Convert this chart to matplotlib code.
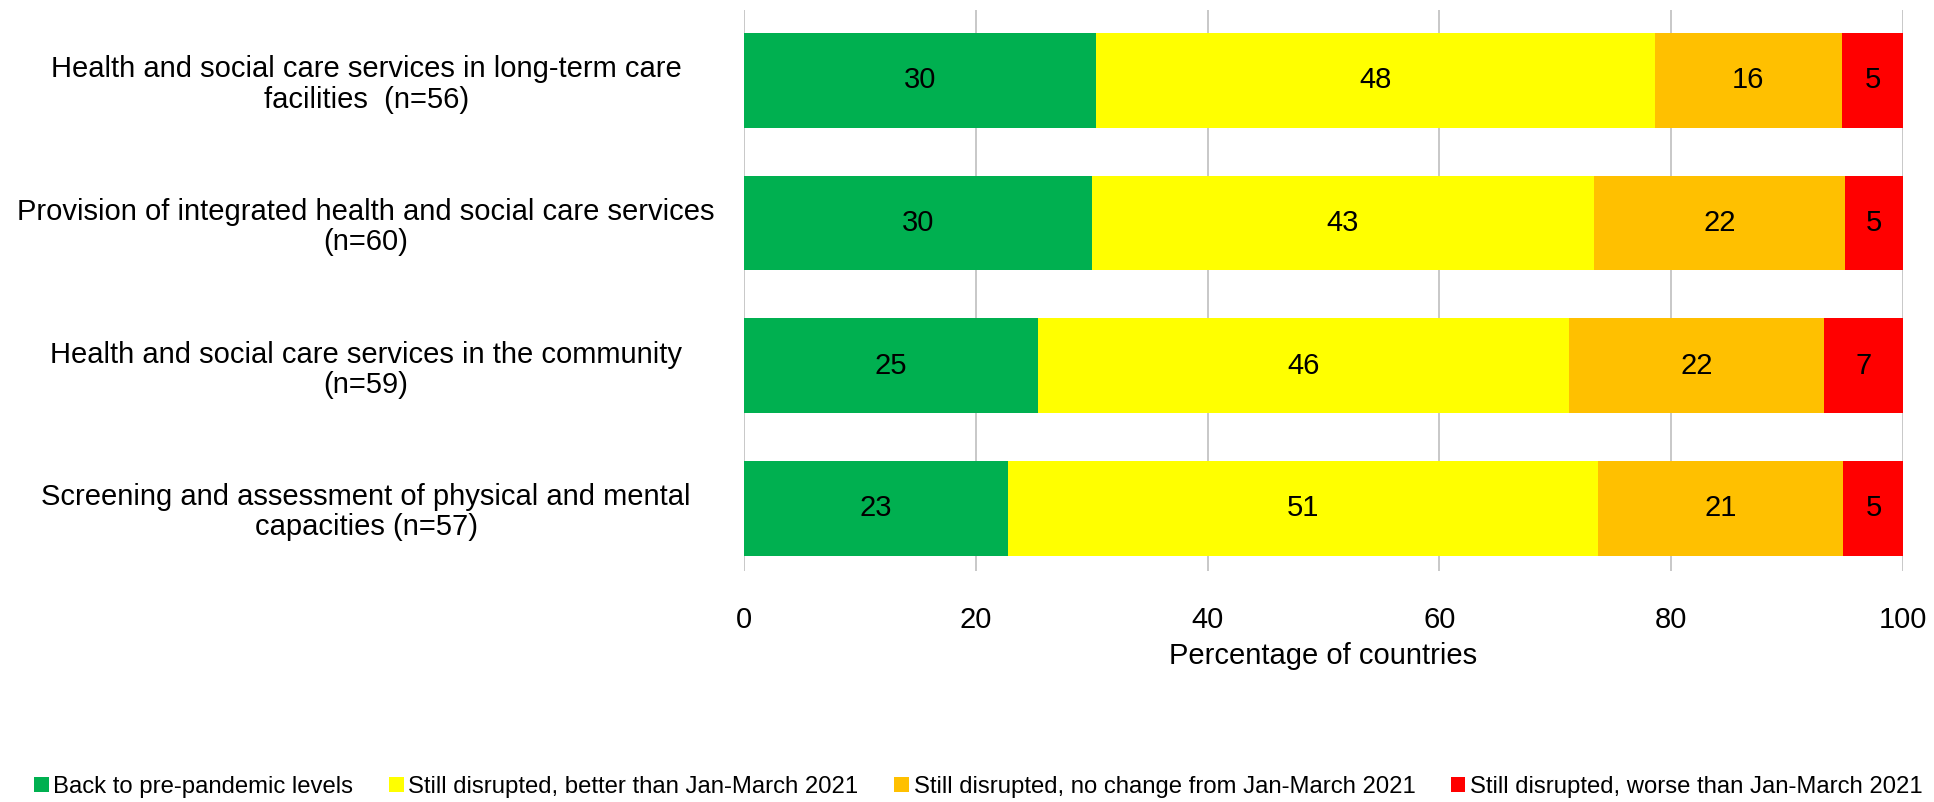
import matplotlib
matplotlib.use("Agg")
import matplotlib.pyplot as plt
from matplotlib.patches import Patch

plt.rcParams['font.family'] = ['Liberation Sans', 'DejaVu Sans']

categories = [
    "Health and social care services in long-term care\nfacilities  (n=56)",
    "Provision of integrated health and social care services\n(n=60)",
    "Health and social care services in the community\n(n=59)",
    "Screening and assessment of physical and mental\ncapacities (n=57)",
]

series_names = [
    "Back to pre-pandemic levels",
    "Still disrupted, better than Jan-March 2021",
    "Still disrupted, no change from Jan-March 2021",
    "Still disrupted, worse than Jan-March 2021",
]

back_to_normal = [30.4, 30.0, 25.4, 22.8]
better = [48.2, 43.3, 45.8, 50.9]
no_change = [16.1, 21.7, 22.0, 21.1]
worse = [5.4, 5.0, 6.8, 5.3]

colors = ["#00B050", "#FFFF00", "#FFC000", "#FF0000"]

FS = 21

fig = plt.figure(figsize=(19.34, 8.02), dpi=100)
ax = fig.add_axes([0.3847, 0.288, 0.5993, 0.6995])

ypos = list(range(len(categories)))[::-1]
left = [0.0] * len(categories)
for name, vals, col in zip(series_names, [back_to_normal, better, no_change, worse], colors):
    bars = ax.barh(ypos, vals, left=left, height=0.665, color=col, label=name,
                   edgecolor="none", zorder=2)
    for b, v in zip(bars, vals):
        ax.text(b.get_x() + b.get_width() / 2, b.get_y() + b.get_height() / 2,
                f"{v:.0f}", ha="center", va="center", fontsize=FS, color="black", zorder=3)
    left = [l + v for l, v in zip(left, vals)]

ax.set_xlim(0, 100)
ax.set_ylim(-0.44, 3.494)
ax.set_xticks([0, 20, 40, 60, 80, 100])
ax.set_yticks(ypos)
ax.set_yticklabels(categories, fontsize=FS, ha="center", linespacing=1.1)
for lbl in ax.get_yticklabels():
    lbl.set_x(-0.326)
ax.tick_params(axis="x", labelsize=FS, length=0, pad=25)
ax.tick_params(axis="y", length=0, pad=0)
ax.xaxis.grid(True, color="#BFBFBF", linewidth=1.2, zorder=0)
ax.set_axisbelow(True)
for s in ax.spines.values():
    s.set_visible(False)
ax.set_xlabel("Percentage of countries", fontsize=FS, labelpad=6)

handles = [Patch(facecolor=c, edgecolor="none") for c in colors]
fig.legend(handles, series_names, loc="center", bbox_to_anchor=(0.506, 0.019), ncol=4,
           frameon=False, fontsize=17.2, handlelength=0.6, handleheight=0.6,
           handletextpad=0.2, columnspacing=1.5)

fig.savefig("out.png", dpi=100, facecolor="white")
